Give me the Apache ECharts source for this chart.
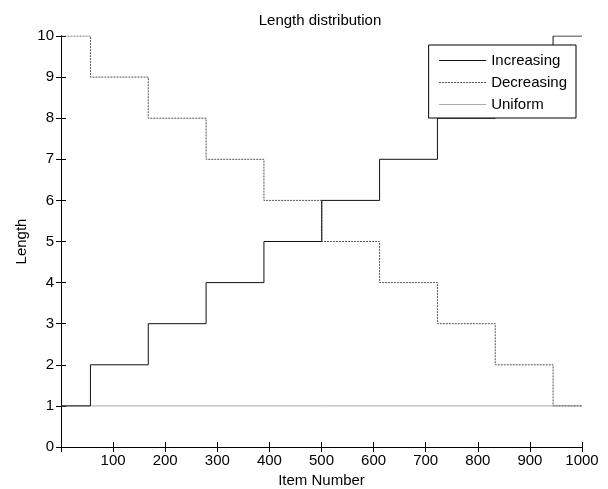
<!DOCTYPE html>
<html>
<head>
<meta charset="utf-8">
<script src="https://cdn.jsdelivr.net/npm/echarts@6/dist/echarts.min.js"></script>
<style>
  html, body { margin: 0; padding: 0; background: #fff; }
  #chart { width: 608px; height: 489px; }
</style>
</head>
<body>
<div id="chart"></div>
<script>
// step corners (item number where the length changes)
const stepX = [1, 56.5, 167.5, 278.5, 389.5, 500.5, 611.5, 722.5, 833.5, 944.5, 1000]
const increasing = [1, 2, 3, 4, 5, 6, 7, 8, 9, 10, 10]
const decreasing = [10, 9, 8, 7, 6, 5, 4, 3, 2, 1, 1]
const uniformX = [1, 1000]
const uniform = [1, 1]
const xTicks = [100, 200, 300, 400, 500, 600, 700, 800, 900, 1000]

const font = 'Liberation Sans, Arial, sans-serif'
const fontSize = 15
const chart = echarts.init(document.getElementById('chart'))

function pairs (xs, ys) {
  return xs.map(function (x, i) { return [x, ys[i]] })
}

function ticks () {
  return { show: true, inside: true, length: 5, lineStyle: { color: '#000', width: 1 } }
}

function frameLine () {
  return { show: true, lineStyle: { color: '#000', width: 1 } }
}

const option = {
  backgroundColor: '#fff',
  animation: false,
  title: {
    text: 'Length distribution',
    left: 315,
    top: 8,
    textAlign: 'center',
    textStyle: { fontSize: fontSize, fontWeight: 'normal', color: '#000', fontFamily: font }
  },
  legend: {
    orient: 'vertical',
    right: 32,
    top: 45,
    itemWidth: 47,
    itemHeight: 14,
    itemGap: 7,
    padding: [8, 9, 6, 10],
    backgroundColor: '#fff',
    borderColor: '#000',
    borderWidth: 1,
    borderRadius: 0,
    itemStyle: { opacity: 0 },
    lineStyle: { width: 1 },
    textStyle: { fontSize: fontSize, lineHeight: 15, color: '#000', fontFamily: font },
    data: ['Increasing', 'Decreasing', 'Uniform']
  },
  grid: { left: 61, right: 26, top: 36, bottom: 42, outerBoundsMode: 'none', containLabel: false },
  xAxis: [
    {
      type: 'value',
      min: 0,
      max: 1000,
      interval: 100,
      name: 'Item Number',
      nameLocation: 'middle',
      nameGap: 24,
      nameTextStyle: { fontSize: fontSize, color: '#000', fontFamily: font },
      axisLine: frameLine(),
      axisTick: ticks(),
      axisLabel: {
        color: '#000', fontSize: fontSize, fontFamily: font, margin: 6,
        formatter: function (v) { return xTicks.indexOf(v) >= 0 ? String(v) : '' }
      },
      splitLine: { show: false }
    },
    {
      type: 'value',
      position: 'top',
      min: 0,
      max: 1000,
      interval: 100,
      axisLine: frameLine(),
      axisTick: ticks(),
      axisLabel: { show: false },
      splitLine: { show: false }
    }
  ],
  yAxis: [
    {
      type: 'value',
      min: 0,
      max: 10,
      interval: 1,
      name: 'Length',
      nameLocation: 'middle',
      nameGap: 32,
      nameMoveOverlap: false,
      nameTextStyle: { fontSize: fontSize, color: '#000', fontFamily: font },
      axisLine: frameLine(),
      axisTick: ticks(),
      axisLabel: { color: '#000', fontSize: fontSize, fontFamily: font, margin: 7 },
      splitLine: { show: false }
    },
    {
      type: 'value',
      position: 'right',
      min: 0,
      max: 10,
      interval: 1,
      axisLine: frameLine(),
      axisTick: ticks(),
      axisLabel: { show: false },
      splitLine: { show: false }
    }
  ],
  series: [
    {
      name: 'Increasing',
      type: 'line',
      step: 'end',
      symbol: 'none',
      z: 3,
      lineStyle: { color: '#111', width: 1 },
      itemStyle: { color: '#111' },
      data: pairs(stepX, increasing)
    },
    {
      name: 'Decreasing',
      type: 'line',
      step: 'end',
      symbol: 'none',
      z: 2,
      lineStyle: { color: '#555', width: 1, type: [2, 1] },
      itemStyle: { color: '#555' },
      data: pairs(stepX, decreasing)
    },
    {
      name: 'Uniform',
      type: 'line',
      symbol: 'none',
      z: 1,
      lineStyle: { color: '#aaa', width: 1 },
      itemStyle: { color: '#aaa' },
      data: pairs(uniformX, uniform)
    }
  ]
}

chart.setOption(option)
</script>
</body>
</html>
